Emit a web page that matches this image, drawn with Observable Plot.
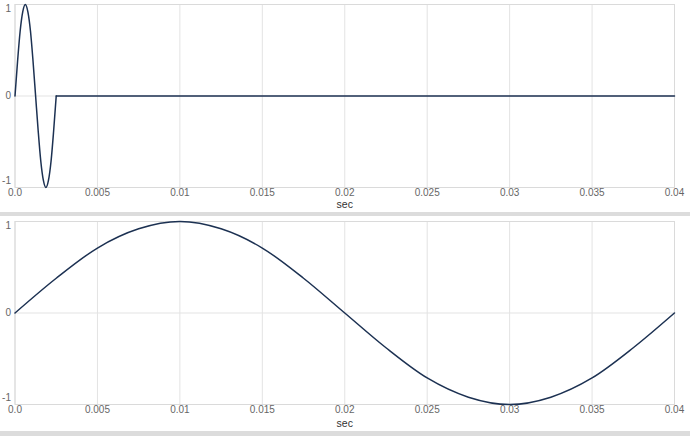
<!DOCTYPE html>
<html>
<head>
<meta charset="utf-8">
<script src="https://cdn.jsdelivr.net/npm/d3@7"></script>
<script src="https://cdn.jsdelivr.net/npm/@observablehq/plot@0.6"></script>
<style>
  html, body { margin: 0; padding: 0; background: #fff; }
  body { width: 690px; height: 436px; overflow: hidden; font-family: "Helvetica Neue", Helvetica, "Liberation Sans", Arial, sans-serif; }
  .sep { height: 4px; background: #dcdcdc; }
  svg { display: block; }
</style>
</head>
<body>
<div id="top"></div>
<div class="sep"></div>
<div id="bottom"></div>
<div class="sep" style="height:6px"></div>
<script>
const burstTime = [0, 0.000156, 0.000313, 0.000469, 0.000625, 0.000781, 0.000938, 0.001094, 0.00125,
                   0.001406, 0.001563, 0.001719, 0.001875, 0.002031, 0.002188, 0.002344, 0.0025];
const burstValue = [0, 0.38, 0.71, 0.92, 1, 0.92, 0.71, 0.38, 0,
                    -0.38, -0.71, -0.92, -1, -0.92, -0.71, -0.38, 0];
const flatTime = [0.0025, 0.04];
const flatValue = [0, 0];

// Bottom: slow wave
const waveTime = [0, 0.0025, 0.005, 0.0075, 0.01, 0.0125, 0.015, 0.0175, 0.02,
                  0.0225, 0.025, 0.0275, 0.03, 0.0325, 0.035, 0.0375, 0.04];
const waveValue = [0, 0.38, 0.71, 0.92, 1, 0.92, 0.71, 0.38, 0,
                   -0.38, -0.71, -0.92, -1, -0.92, -0.71, -0.38, 0];

const xTicks = [0, 0.005, 0.01, 0.015, 0.02, 0.025, 0.03, 0.035, 0.04];
const xTickLabels = ["0.0", "0.005", "0.01", "0.015", "0.02", "0.025", "0.03", "0.035", "0.04"];
const yTicks = [-1, 0, 1];
const yTickLabels = ["-1", "0", "1"];
const xLabel = "sec";

const lineColor = "#1c3152";
const gridColor = "#e3e3e3";
const textColor = "#666";

const burst = burstTime.map((t, i) => ({t, v: burstValue[i]}));
const flat = flatTime.map((t, i) => ({t, v: flatValue[i]}));
const wave = waveTime.map((t, i) => ({t, v: waveValue[i]}));

function panel(series, height, marginTop, marginBottom) {
  const fmtX = d => xTickLabels[xTicks.indexOf(d)];
  const fmtY = d => yTickLabels[yTicks.indexOf(d)];
  return Plot.plot({
    width: 690,
    height,
    marginTop,
    marginBottom,
    marginLeft: 14.5,
    marginRight: 16,
    style: {fontFamily: "Helvetica Neue, Helvetica, Liberation Sans, Arial, sans-serif", fontSize: "10px", color: textColor, background: "#fff"},
    x: {domain: [0, 0.04]},
    y: {domain: [-1, 1]},
    marks: [
      Plot.gridX(xTicks, {stroke: gridColor, strokeOpacity: 1}),
      Plot.gridY([0], {stroke: gridColor, strokeOpacity: 1}),
      Plot.frame({stroke: "#dadada"}),
      Plot.axisX(xTicks, {tickSize: 0, tickPadding: 1, tickFormat: fmtX, fill: textColor, fontSize: 10, label: null}),
      Plot.text([xLabel], {frameAnchor: "bottom", dy: marginBottom - 5, fill: "#333", fontSize: 10.5}),
      Plot.axisY([1], {tickSize: 0, tickPadding: 4, dy: 4, tickFormat: fmtY, fill: textColor, fontSize: 10, label: null}),
      Plot.axisY([0], {tickSize: 0, tickPadding: 4, tickFormat: fmtY, fill: textColor, fontSize: 10, label: null}),
      Plot.axisY([-1], {tickSize: 0, tickPadding: 4, dy: -7, tickFormat: fmtY, fill: textColor, fontSize: 10, label: null}),
      ...series
    ]
  });
}

document.getElementById("top").append(panel([
  Plot.line(burst, {x: "t", y: "v", curve: "monotone-x", stroke: lineColor, strokeWidth: 1.5}),
  Plot.line(flat, {x: "t", y: "v", stroke: lineColor, strokeWidth: 1.5})
], 212, 4, 25));

document.getElementById("bottom").append(panel([
  Plot.line(wave, {x: "t", y: "v", curve: "monotone-x", stroke: lineColor, strokeWidth: 1.5})
], 215, 5, 27));
</script>
</body>
</html>
